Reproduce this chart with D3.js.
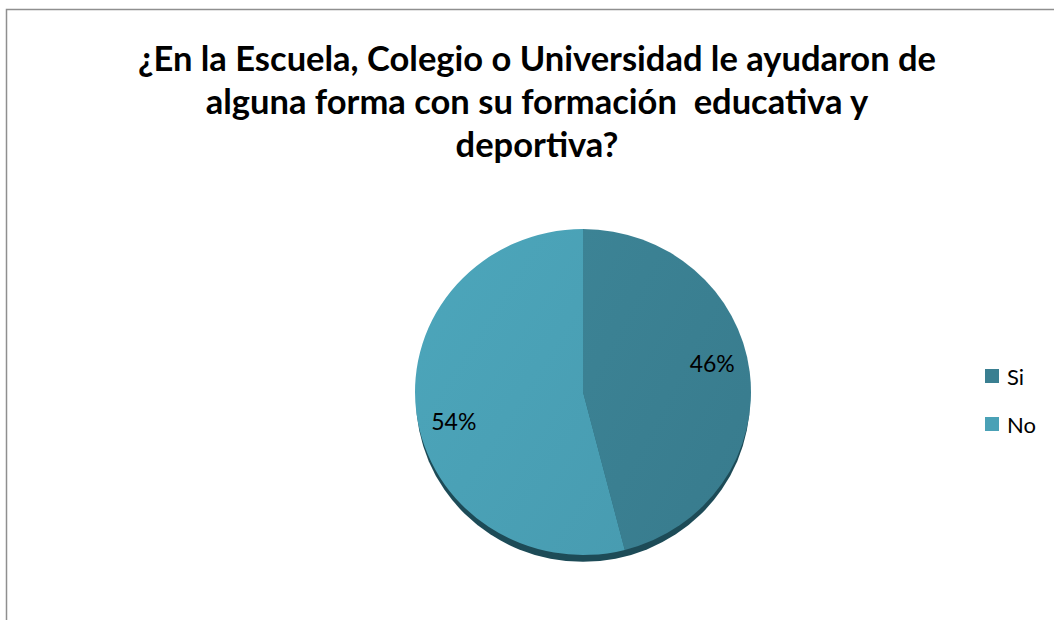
<!DOCTYPE html>
<html>
<head>
<meta charset="utf-8">
<script src="https://cdn.jsdelivr.net/npm/d3@7"></script>
<style>
  body { margin: 0; background: #fff; }
  svg { display: block; }
</style>
</head>
<body>
<svg id="chart" width="1054" height="620"></svg>
<script>
// datos del gráfico
const titleLines = [
    "¿En la Escuela, Colegio o Universidad le ayudaron de",
    "alguna forma con su formación  educativa y",
    "deportiva?"
]
const categories = ["Si", "No"]
const values = [46, 54]
const colors = ["#3a7f91", "#4aa1b6"]

const svg = d3.select("#chart"),
    width = +svg.attr("width"),
    height = +svg.attr("height");

// marco del área del gráfico (se sale de la imagen por la derecha y abajo)
svg.append("rect")
    .attr("x", 6.5).attr("y", 9.5)
    .attr("width", 1100).attr("height", 700)
    .attr("fill", "#fff")
    .attr("stroke", "#8f8f8f")
    .attr("stroke-width", 1.5)

// título
svg.append("g")
    .selectAll("text")
    .data(titleLines)
    .join("text")
    .attr("x", 537)
    .attr("y", (d, i) => 71 + i * 43)
    .attr("text-anchor", "middle")
    .style("font-family", "Lato, 'Open Sans', sans-serif")
    .style("font-weight", "bold")
    .style("font-size", "34.5px")
    .style("white-space", "pre")
    .style("fill", "#000")
    .text(d => d)

// pastel
const cx = 583, cy = 392, r = 168, squash = 163 / 168

const data = categories.map((c, i) => ({ cat: c, value: values[i], color: colors[i] }))
const pie = d3.pie().sort(null).value(d => d.value)
const arc = d3.arc().innerRadius(0).outerRadius(r)
// etiquetas algo giradas respecto al centro de cada sector, como en el original
const labelShift = -6 * Math.PI / 180
const labelArc = d3.arc().innerRadius(r * 0.79).outerRadius(r * 0.79)
    .startAngle(d => d.startAngle + labelShift)
    .endAngle(d => d.endAngle + labelShift)

const defs = svg.append("defs")
data.forEach((d, i) => {
    const g = defs.append("linearGradient")
        .attr("id", "grad" + i)
        .attr("x1", "0%").attr("y1", "0%")
        .attr("x2", "100%").attr("y2", "100%")
    g.append("stop").attr("offset", "0%").style("stop-color", d3.color(d.color).brighter(0.08))
    g.append("stop").attr("offset", "100%").style("stop-color", d3.color(d.color).darker(0.08))
})

const pieG = svg.append("g")
    .attr("transform", `translate(${cx},${cy}) scale(1,${squash})`)

// sombra inferior (efecto 3D)
pieG.append("ellipse")
    .attr("cx", 0).attr("cy", 7)
    .attr("rx", r - 1).attr("ry", r)
    .attr("fill", "#1d4b57")

pieG.selectAll("path.slice")
    .data(pie(data))
    .join("path")
    .attr("class", "slice")
    .attr("d", arc)
    .attr("fill", (d, i) => `url(#grad${i})`)

// etiquetas de porcentaje
svg.append("g")
    .selectAll("text")
    .data(pie(data))
    .join("text")
    .attr("x", d => cx + labelArc.centroid(d)[0])
    .attr("y", d => cy + labelArc.centroid(d)[1] * squash)
    .attr("text-anchor", "middle")
    .attr("dominant-baseline", "central")
    .style("font-family", "Lato, 'Open Sans', sans-serif")
    .style("font-size", "23px")
    .style("fill", "#000")
    .text(d => d.data.value + "%")

// leyenda
const legend = svg.append("g")
    .attr("transform", "translate(985,376)")
const item = legend.selectAll("g")
    .data(data)
    .join("g")
    .attr("transform", (d, i) => `translate(0,${i * 48})`)
item.append("rect")
    .attr("x", 0).attr("y", -7)
    .attr("width", 14).attr("height", 14)
    .attr("fill", d => d.color)
item.append("text")
    .attr("x", 22).attr("y", 0)
    .attr("dominant-baseline", "central")
    .style("font-family", "Lato, 'Open Sans', sans-serif")
    .style("font-size", "22px")
    .style("fill", "#000")
    .text(d => d.cat)
</script>
</body>
</html>
